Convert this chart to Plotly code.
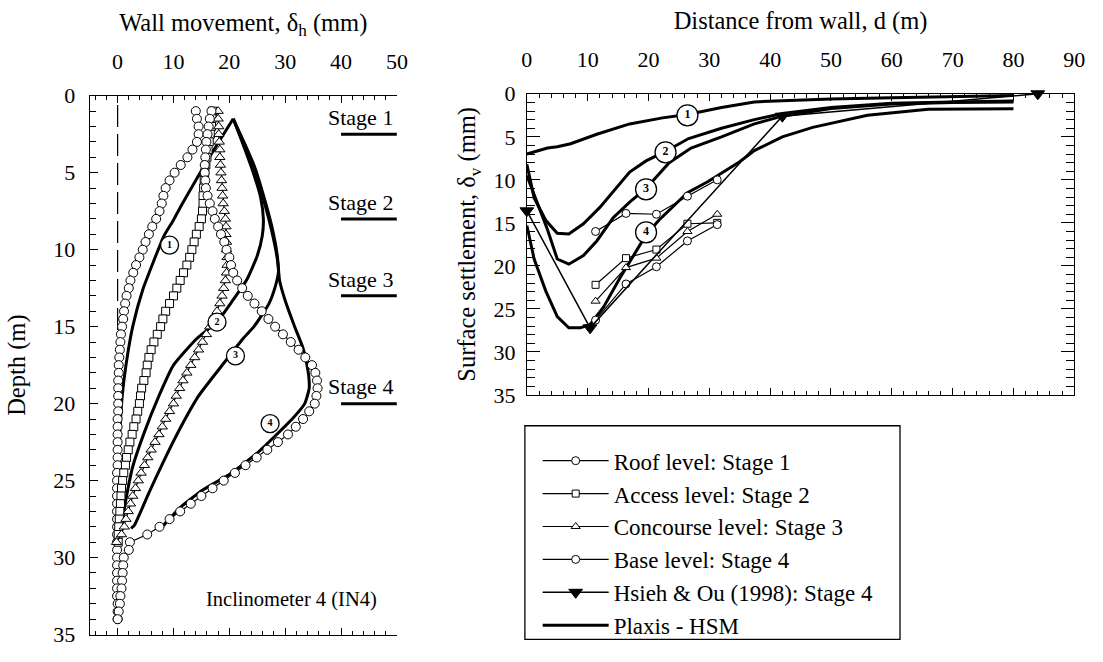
import plotly.graph_objects as go

FONT = '"Liberation Serif", "Times New Roman", Times, serif'
W, H = 1103, 662

# ---------------- Inclinometer IN4: wall movement (mm) vs depth (m) ----------------
d_roof = [1.0, 1.5, 2.0, 2.5, 3.0, 3.5, 4.0, 4.5, 5.0, 5.5, 6.0, 6.5, 7.0, 7.5, 8.0, 8.5,
          9.0, 9.5, 10.0, 10.5, 11.0, 11.5, 12.0, 12.5, 13.0, 13.5, 14.0, 14.5, 15.0, 15.5,
          16.0, 16.5, 17.0, 17.5, 18.0, 18.5, 19.0, 19.5, 20.0, 20.5, 21.0, 21.5, 22.0, 22.5,
          23.0, 23.5, 24.0, 24.5, 25.0, 25.5, 26.0, 26.5, 27.0, 27.5, 28.0, 28.5, 29.0, 29.5,
          30.0, 30.5, 31.0, 31.5, 32.0, 32.5, 33.0, 33.5, 34.0]
m_roof = [14.0, 14.2, 14.5, 14.5, 14.2, 13.4, 12.5, 11.3, 10.2, 9.3, 8.6, 8.2, 7.9, 7.5, 6.9, 6.2,
          5.6, 5.0, 4.5, 3.9, 3.3, 2.8, 2.3, 2.0, 1.6, 1.35, 1.15, 1.0, 0.8, 0.6,
          0.5, 0.4, 0.3, 0.2, 0.2, 0.1, 0.1, 0.1, 0.1, 0.1, 0.0, 0.0, 0.0, 0.0,
          0.0, 0.0, 0.0, -0.1, -0.1, -0.1, -0.1, -0.1, -0.1, -0.1, -0.1, -0.1, -0.1, -0.1,
          -0.1, -0.1, -0.1, -0.1, -0.1, -0.1, 0.0, 0.0, 0.0]

d_access = [1.0, 1.5, 2.0, 2.5, 3.0, 3.5, 4.0, 4.5, 5.0, 5.5, 6.0, 6.5, 7.0, 7.5, 8.0, 8.5,
            9.0, 9.5, 10.0, 10.5, 11.0, 11.5, 12.0, 12.5, 13.0, 13.5, 14.0, 14.5, 15.0, 15.5,
            16.0, 16.5, 17.0, 17.5, 18.0, 18.5, 19.0, 19.5, 20.0, 20.5, 21.0, 21.5, 22.0, 22.5,
            23.0, 23.5, 24.0, 24.5, 25.0, 25.5, 26.0, 26.5, 27.0, 27.5, 28.0, 28.5, 29.0]
m_access = [17.0, 16.9, 16.8, 16.6, 16.4, 16.2, 16.0, 15.8, 15.6, 15.5, 15.4, 15.3, 15.3, 15.2, 15.0, 14.6,
            14.1, 13.7, 13.3, 12.9, 12.4, 11.8, 11.2, 10.6, 10.0, 9.3, 8.6, 8.1, 7.7, 7.1,
            6.5, 6.0, 5.6, 5.3, 5.1, 4.7, 4.3, 4.1, 3.9, 3.6, 3.3, 2.9, 2.6, 2.2,
            1.9, 1.6, 1.4, 1.1, 0.9, 0.7, 0.6, 0.5, 0.4, 0.3, 0.2, 0.1, 0.1]

d_conc = [1.0, 1.5, 2.0, 2.5, 3.0, 3.5, 4.0, 4.5, 5.0, 5.5, 6.0, 6.5, 7.0, 7.5, 8.0, 8.5,
          9.0, 9.5, 10.0, 10.5, 11.0, 11.5, 12.0, 12.5, 13.0, 13.5, 14.0, 14.5, 15.0, 15.5,
          16.0, 16.5, 17.0, 17.5, 18.0, 18.5, 19.0, 19.5, 20.0, 20.5, 21.0, 21.5, 22.0, 22.5,
          23.0, 23.5, 24.0, 24.5, 25.0, 25.5, 26.0, 26.5, 27.0, 27.5, 28.0, 28.5, 29.0]
m_conc = [18.0, 18.0, 18.1, 18.1, 18.2, 18.3, 18.3, 18.4, 18.5, 18.6, 18.7, 18.8, 18.9, 19.1, 19.3, 19.4,
          19.4, 19.5, 19.5, 19.6, 19.6, 19.5, 19.3, 19.0, 18.7, 18.3, 17.8, 17.2, 16.5, 15.9,
          15.2, 14.5, 13.8, 13.1, 12.4, 11.7, 11.1, 10.5, 10.0, 9.3, 8.6, 8.0, 7.4, 6.7,
          6.0, 5.4, 4.8, 4.2, 3.7, 3.2, 2.7, 2.3, 1.9, 1.5, 1.2, 0.7, -0.2]

d_base = [1.0, 1.5, 2.0, 2.5, 3.0, 3.5, 4.0, 4.5, 5.0, 5.5, 6.0, 6.5, 7.0, 7.5, 8.0, 8.5,
          9.0, 9.5, 10.0, 10.5, 11.0, 11.5, 12.0, 12.5, 13.0, 13.5, 14.0, 14.5, 15.0, 15.5,
          16.0, 16.5, 17.0, 17.5, 18.0, 18.5, 19.0, 19.5, 20.0, 20.5, 21.0, 21.5, 22.0, 22.5,
          23.0, 23.5, 24.0, 24.5, 25.0, 25.5, 26.0, 26.5, 27.0, 27.5, 28.0, 28.5, 29.0, 29.5,
          30.0, 30.5, 31.0, 31.5, 32.0, 32.5, 33.0, 33.5, 34.0]
m_base = [16.8, 16.5, 16.3, 16.1, 15.9, 15.8, 15.7, 15.6, 15.6, 15.7, 15.8, 16.1, 16.5, 17.0, 17.4, 18.0,
          18.5, 19.1, 19.5, 20.0, 20.3, 20.7, 21.4, 22.3, 23.3, 24.5, 25.8, 27.0, 28.2, 29.6,
          31.0, 32.4, 33.6, 34.8, 35.4, 35.7, 35.8, 35.6, 35.3, 34.3, 33.2, 31.9, 30.5, 28.7,
          26.8, 24.9, 22.9, 21.0, 19.0, 17.0, 15.0, 13.1, 11.2, 9.3, 7.5, 5.3, 2.2, 2.0,
          1.1, 1.0, 0.9, 0.8, 0.7, 0.5, 0.4, 0.2, 0.0]

# Plaxis-HSM wall deflection profiles (stages 1-4)
hsm1_x = [20.7, 16.0, 11.5, 9.8, 8.3, 6.5, 4.5, 2.7, 1.5, 0.8, 0.4, 0.2, 0.1]
hsm1_d = [1.5, 4.25, 7.06, 8.2, 9.1, 10.7, 12.6, 15.0, 17.5, 19.6, 22.0, 25.0, 28.0]
hsm2_x = [20.7, 22.4, 24.1, 25.6, 26.1, 25.9, 25.0, 23.2, 20.6, 18.0, 14.1, 10.0, 7.4, 4.75, 2.7, 1.5, 0.65]
hsm2_d = [1.5, 3.1, 4.8, 6.6, 8.0, 9.1, 10.4, 11.9, 13.3, 14.6, 15.8, 17.5, 19.5, 21.9, 24.1, 26.2, 28.1]
hsm3_x = [20.7, 22.5, 24.4, 26.4, 27.6, 28.5, 28.8, 28.3, 27.1, 24.4, 22.4, 18.3, 14.5, 11.2, 8.3, 5.6, 3.0, 2.4]
hsm3_d = [1.5, 3.0, 4.6, 7.1, 8.8, 10.4, 11.4, 12.3, 13.5, 15.0, 15.8, 17.7, 19.5, 21.6, 23.7, 25.8, 27.9, 28.1]
hsm4_x = [20.7, 22.6, 24.5, 26.6, 27.8, 28.6, 29.0, 30.0, 31.7, 33.2, 34.1, 34.3, 33.5, 31.5, 28.2, 24.7,
          20.0, 15.3, 11.2, 8.0]
hsm4_d = [1.5, 3.0, 4.6, 7.1, 8.8, 10.4, 12.0, 13.3, 15.0, 16.4, 17.9, 19.0, 20.0, 20.9, 22.1, 23.3,
          24.6, 25.6, 26.75, 28.0]

# initial wall position (dashed) and excavation stage levels
wall_x = [0, 0]
wall_d = [0.6, 15.4]
stage_names = ["Stage 1", "Stage 2", "Stage 3", "Stage 4"]
stage_depth = [2.5, 8.0, 13.0, 20.0]
stage_x = [40, 50]

# curve tags on the deflection plot
tag_left_text = ["1", "2", "3", "4"]
tag_left_x = [9.3, 17.8, 21.1, 27.3]
tag_left_d = [9.7, 14.7, 16.9, 21.3]

# ---------------- Surface settlement (mm) vs distance from wall (m) ----------------
obs_dist = [11.3, 16.3, 21.3, 26.4, 31.3]
sett_roof = [16.0, 13.9, 14.0, 11.9, 10.0]
sett_access = [22.2, 19.1, 18.1, 15.1, 15.0]
sett_conc = [24.1, 20.2, 19.1, 16.0, 14.0]
sett_base = [26.3, 22.1, 20.1, 17.1, 15.2]

hsieh_dist = [0, 10.4, 42.0, 84.0]
hsieh_sett = [13.6, 27.2, 2.6, 0.0]

s1_x = [0, 2, 3.4, 5, 7.2, 11.5, 16.9, 22.3, 26.4, 32, 37.4, 42, 50, 60, 70, 80]
s1_y = [7.0, 6.6, 6.3, 6.15, 5.8, 4.7, 3.5, 2.8, 2.4, 1.6, 0.95, 0.8, 0.6, 0.45, 0.3, 0.2]
s2_x = [0, 1.2, 3.1, 5.0, 6.9, 9.3, 12.0, 14.2, 16.9, 19.6, 22.8, 26.6, 32, 37.4, 42, 50, 60, 70, 80]
s2_y = [8.2, 12.1, 14.7, 16.2, 16.3, 15.1, 13.2, 11.4, 9.1, 7.8, 6.7, 5.2, 4.0, 3.0, 2.3, 1.6, 1.1, 0.95, 0.85]
s3_x = [0, 1.8, 3.4, 5.0, 6.9, 9.3, 11.5, 14.2, 16.9, 19.6, 23.4, 27, 32, 37.4, 42, 50, 60, 70, 80]
s3_y = [9.5, 12.9, 15.8, 19.2, 19.8, 18.8, 17.1, 14.4, 12.6, 11.0, 8.0, 6.3, 5.0, 3.5, 2.6, 1.7, 1.2, 1.0, 0.95]
s4_x = [0, 1.2, 3.1, 5.0, 6.9, 8.8, 10.4, 12.6, 15.3, 18.2, 19.6, 21.7, 26.4, 29.8, 32, 35, 37.4, 42,
        47, 56, 66, 80]
s4_y = [15.3, 19.2, 22.9, 25.9, 27.2, 27.2, 26.8, 24.8, 21.4, 18.1, 16.4, 14.7, 11.5, 10.2, 9.2, 7.9,
        6.6, 5.0, 3.9, 2.5, 1.8, 1.75]

tag_right_text = ["1", "2", "3", "4"]
tag_right_x = [26.4, 22.8, 19.6, 19.6]
tag_right_y = [2.5, 6.8, 11.1, 16.1]

fig = go.Figure()

thick = dict(color="black", width=3)
thin = dict(color="black", width=1.2)


def marker(symbol, size, fill="white", lw=1):
    return dict(symbol=symbol, size=size, color=fill, line=dict(color="black", width=lw))


# ---- left panel traces ----
for xs, ds in [(hsm1_x, hsm1_d), (hsm2_x, hsm2_d), (hsm3_x, hsm3_d), (hsm4_x, hsm4_d)]:
    fig.add_trace(go.Scatter(x=xs, y=ds, mode="lines", line=dict(thick, shape="spline", smoothing=0.5),
                             xaxis="x", yaxis="y", showlegend=False, hoverinfo="skip"))
fig.add_trace(go.Scatter(x=wall_x, y=wall_d, mode="lines", line=dict(color="black", width=1.2, dash="22px,7px"),
                         xaxis="x", yaxis="y", showlegend=False))
for name, d in zip(stage_names, stage_depth):
    fig.add_trace(go.Scatter(x=stage_x, y=[d, d], mode="lines", line=dict(color="black", width=3),
                             xaxis="x", yaxis="y", showlegend=False))

fig.add_trace(go.Scatter(x=m_roof, y=d_roof, mode="lines+markers", line=thin, marker=marker("circle", 9),
                         xaxis="x", yaxis="y", showlegend=False))
fig.add_trace(go.Scatter(x=m_access, y=d_access, mode="lines+markers", line=thin, marker=marker("square", 8),
                         xaxis="x", yaxis="y", showlegend=False))
fig.add_trace(go.Scatter(x=m_conc, y=d_conc, mode="lines+markers", line=thin, marker=marker("triangle-up", 9),
                         xaxis="x", yaxis="y", showlegend=False))
fig.add_trace(go.Scatter(x=m_base, y=d_base, mode="lines+markers", line=thin, marker=marker("circle", 9),
                         xaxis="x", yaxis="y", showlegend=False))
fig.add_trace(go.Scatter(x=tag_left_x, y=tag_left_d, mode="markers+text", text=[f"<b>{t}</b>" for t in tag_left_text],
                         textposition="middle center", textfont=dict(family=FONT, size=10, color="black"),
                         marker=marker("circle", 18, lw=1.3), xaxis="x", yaxis="y", showlegend=False))

# ---- right panel traces ----
for xs, ys in [(s1_x, s1_y), (s2_x, s2_y), (s3_x, s3_y), (s4_x, s4_y)]:
    fig.add_trace(go.Scatter(x=xs, y=ys, mode="lines", line=thick, xaxis="x2", yaxis="y2",
                             showlegend=False, hoverinfo="skip"))
fig.add_trace(go.Scatter(x=obs_dist, y=sett_roof, name="Roof level: Stage 1", mode="lines+markers",
                         line=thin, marker=marker("circle", 8), xaxis="x2", yaxis="y2"))
fig.add_trace(go.Scatter(x=obs_dist, y=sett_access, name="Access level: Stage 2", mode="lines+markers",
                         line=thin, marker=marker("square", 7), xaxis="x2", yaxis="y2"))
fig.add_trace(go.Scatter(x=obs_dist, y=sett_conc, name="Concourse level: Stage 3", mode="lines+markers",
                         line=thin, marker=marker("triangle-up", 8), xaxis="x2", yaxis="y2"))
fig.add_trace(go.Scatter(x=obs_dist, y=sett_base, name="Base level: Stage 4", mode="lines+markers",
                         line=thin, marker=marker("circle", 8), xaxis="x2", yaxis="y2"))
fig.add_trace(go.Scatter(x=hsieh_dist, y=hsieh_sett, name="Hsieh & Ou (1998): Stage 4", mode="lines+markers",
                         line=dict(color="black", width=1.5), marker=marker("triangle-down", 12, fill="black"),
                         xaxis="x2", yaxis="y2", cliponaxis=False))
fig.add_trace(go.Scatter(x=[None], y=[None], name="Plaxis - HSM", mode="lines", line=thick,
                         xaxis="x2", yaxis="y2"))
fig.add_trace(go.Scatter(x=tag_right_x, y=tag_right_y, mode="markers+text", text=[f"<b>{t}</b>" for t in tag_right_text],
                         textposition="middle center", textfont=dict(family=FONT, size=12, color="black"),
                         marker=marker("circle", 21, lw=1.3), xaxis="x2", yaxis="y2", showlegend=False))

# ---- annotations ----
ann = []
for name, d in zip(stage_names, stage_depth):
    ann.append(dict(x=37.3, y=d - 0.15, xref="x", yref="y", text=name, showarrow=False,
                    xanchor="left", yanchor="bottom", font=dict(family=FONT, size=22, color="black")))
ann.append(dict(x=15.5, y=32.7, xref="x", yref="y", text="Inclinometer 4 (IN4)", showarrow=False,
                xanchor="left", yanchor="middle", font=dict(family=FONT, size=20.5, color="black")))

tickfont = dict(family=FONT, size=22, color="black")
titlefont = dict(family=FONT, size=24.5, color="black")

axis_common = dict(showgrid=False, zeroline=False, showline=True, linecolor="black", linewidth=1,
                   ticks="inside", tickcolor="black", tickfont=tickfont)

fig.update_layout(
    width=W, height=H, margin=dict(l=0, r=0, t=0, b=0),
    paper_bgcolor="white", plot_bgcolor="white",
    font=dict(family=FONT, color="black"),
    xaxis=dict(axis_common, domain=[85 / W, 397 / W], range=[-5, 50], side="top", anchor="y",
               tick0=0, dtick=10, ticklen=7, mirror="ticks", ticklabelstandoff=17,
               minor=dict(dtick=2, ticklen=4, ticks="inside", tickcolor="black"),
               title=dict(text="Wall movement, δ<sub>h</sub> (mm)", font=titlefont, standoff=10)),
    yaxis=dict(axis_common, domain=[1 - 647 / H, 1 - 87 / H], range=[35, 0], anchor="x",
               tick0=0, dtick=5, ticklen=8, ticklabelstandoff=9,
               minor=dict(dtick=1, ticklen=6, ticks="inside", tickcolor="black"),
               title=dict(text="Depth (m)", font=titlefont, standoff=20)),
    xaxis2=dict(axis_common, domain=[529 / W, 1085 / W], range=[0, 90], side="top", anchor="y2",
                tick0=0, dtick=10, ticklen=7, mirror="ticks", ticklabelstandoff=17,
                minor=dict(dtick=2, ticklen=4, ticks="inside", tickcolor="black"),
                title=dict(text="Distance from wall, d (m)", font=titlefont, standoff=10)),
    yaxis2=dict(axis_common, domain=[1 - 398 / H, 1 - 85 / H], range=[35, 0], anchor="x2",
                tick0=0, dtick=5, ticklen=13, mirror="ticks", ticklabelstandoff=6,
                minor=dict(dtick=1, ticklen=8, ticks="inside", tickcolor="black"),
                title=dict(text="Surface settlement, δ<sub>v</sub> (mm)", font=titlefont, standoff=10)),
    showlegend=True,
    legend=dict(x=540 / W, y=1 - 444 / H, xanchor="left", yanchor="top",
                font=dict(family=FONT, size=23, color="black"), bgcolor="rgba(0,0,0,0)",
                borderwidth=0, itemwidth=66, tracegroupgap=0),
    shapes=[dict(type="rect", xref="paper", yref="paper", x0=527 / W, x1=908 / W,
                 y0=1 - 652 / H, y1=1 - 430 / H, line=dict(color="black", width=1.3))],
    annotations=ann,
)

fig.write_html("out.html")
